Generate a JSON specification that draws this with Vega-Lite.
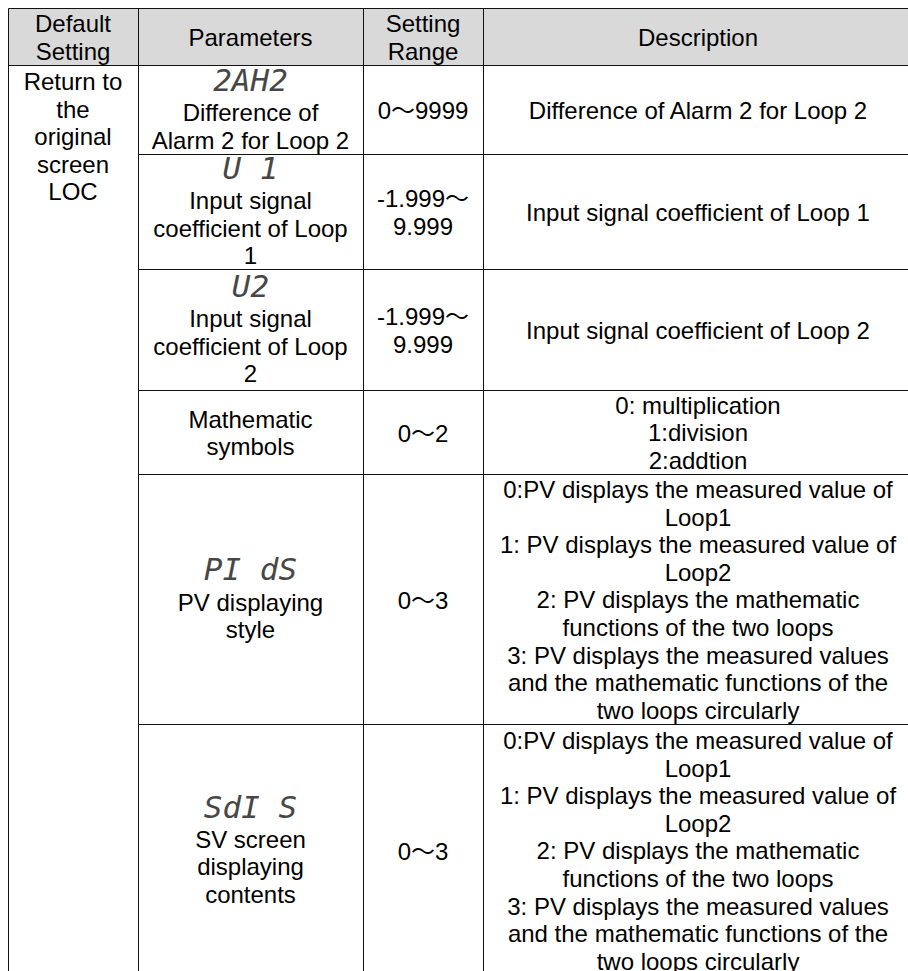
{
  "$schema": "https://vega.github.io/schema/vega-lite/v6.json",
  "width": 908,
  "height": 971,
  "padding": 0,
  "autosize": "none",
  "background": "white",
  "config": {"view": {"stroke": null}},
  "datasets": {
    "header": [{"c0": 0, "c1": 4, "r0": 0, "r1": 1}],
    "grid": [
      {"c0": 0, "c1": 0, "r0": 0, "r1": 7},
      {"c0": 1, "c1": 1, "r0": 0, "r1": 7},
      {"c0": 2, "c1": 2, "r0": 0, "r1": 7},
      {"c0": 3, "c1": 3, "r0": 0, "r1": 7},
      {"c0": 4, "c1": 4, "r0": 0, "r1": 7},
      {"c0": 0, "c1": 4, "r0": 0, "r1": 0},
      {"c0": 0, "c1": 4, "r0": 1, "r1": 1},
      {"c0": 1, "c1": 4, "r0": 2, "r1": 2},
      {"c0": 1, "c1": 4, "r0": 3, "r1": 3},
      {"c0": 1, "c1": 4, "r0": 4, "r1": 4},
      {"c0": 1, "c1": 4, "r0": 5, "r1": 5},
      {"c0": 1, "c1": 4, "r0": 6, "r1": 6},
      {"c0": 0, "c1": 4, "r0": 7, "r1": 7}
    ],
    "cells": [
      {"row": 0, "col": 0, "text": "Default\nSetting"},
      {"row": 0, "col": 1, "text": "Parameters"},
      {"row": 0, "col": 2, "text": "Setting\nRange"},
      {"row": 0, "col": 3, "text": "Description"},
      {"row": 1, "col": 2, "text": "0～9999"},
      {"row": 1, "col": 3, "text": "Difference of Alarm 2 for Loop 2"},
      {"row": 2, "col": 2, "text": "-1.999～\n9.999"},
      {"row": 2, "col": 3, "text": "Input signal coefficient of Loop 1"},
      {"row": 3, "col": 2, "text": "-1.999～\n9.999"},
      {"row": 3, "col": 3, "text": "Input signal coefficient of Loop 2"},
      {"row": 4, "col": 1, "text": "Mathematic\nsymbols"},
      {"row": 4, "col": 2, "text": "0～2"},
      {"row": 4, "col": 3, "text": "0: multiplication\n1:division\n2:addtion"},
      {"row": 5, "col": 2, "text": "0～3"},
      {"row": 5, "col": 3, "text": "0:PV displays the measured value of\nLoop1\n1: PV displays the measured value of\nLoop2\n2: PV displays the mathematic\nfunctions of the two loops\n3: PV displays the measured values\nand the mathematic functions of the\ntwo loops circularly"},
      {"row": 6, "col": 2, "text": "0～3"},
      {"row": 6, "col": 3, "text": "0:PV displays the measured value of\nLoop1\n1: PV displays the measured value of\nLoop2\n2: PV displays the mathematic\nfunctions of the two loops\n3: PV displays the measured values\nand the mathematic functions of the\ntwo loops circularly"}
    ],
    "params": [
      {"row": 1, "col": 1, "code": "2AH2", "text": "Difference of\nAlarm 2 for Loop 2"},
      {"row": 2, "col": 1, "code": "U 1", "text": "Input signal\ncoefficient of Loop\n1"},
      {"row": 3, "col": 1, "code": "U2", "text": "Input signal\ncoefficient of Loop\n2"},
      {"row": 5, "col": 1, "code": "PI dS", "text": "PV displaying\nstyle"},
      {"row": 6, "col": 1, "code": "SdI S", "text": "SV screen\ndisplaying\ncontents"}
    ],
    "merged": [
      {"row": 1, "col": 0, "text": "Return to\nthe\noriginal\nscreen\nLOC"}
    ]
  },
  "layer": [
    {
      "data": {"name": "header"},
      "mark": {"type": "rect", "color": "#d9d9d9"},
      "encoding": {
        "x": {"field": "c0", "type": "quantitative", "axis": null, "scale": {"domain": [0, 1, 2, 3, 4], "range": [8.5, 138.5, 363.5, 483.5, 913], "nice": false, "zero": false}},
        "x2": {"field": "c1"},
        "y": {"field": "r0", "type": "quantitative", "axis": null, "scale": {"domain": [0, 1, 2, 3, 4, 5, 6, 7], "range": [8.5, 65.5, 154.5, 269.5, 390.5, 474.5, 724.5, 976], "nice": false, "zero": false}},
        "y2": {"field": "r1"}
      }
    },
    {
      "data": {"name": "grid"},
      "mark": {"type": "rule", "color": "#111111", "strokeWidth": 1},
      "encoding": {
        "x": {"field": "c0", "type": "quantitative", "axis": null, "scale": {"domain": [0, 1, 2, 3, 4], "range": [8.5, 138.5, 363.5, 483.5, 913], "nice": false, "zero": false}},
        "x2": {"field": "c1"},
        "y": {"field": "r0", "type": "quantitative", "axis": null, "scale": {"domain": [0, 1, 2, 3, 4, 5, 6, 7], "range": [8.5, 65.5, 154.5, 269.5, 390.5, 474.5, 724.5, 976], "nice": false, "zero": false}},
        "y2": {"field": "r1"}
      }
    },
    {
      "encoding": {
        "x": {"field": "col", "type": "quantitative", "axis": null, "scale": {"domain": [0, 1, 2, 3], "range": [73, 250.5, 423, 698], "nice": false, "zero": false}},
        "y": {"field": "row", "type": "quantitative", "axis": null, "scale": {"domain": [0, 1, 2, 3, 4, 5, 6], "range": [36.5, 109.5, 211.5, 329.5, 432, 599, 850], "nice": false, "zero": false}}
      },
      "layer": [
        {
          "data": {"name": "cells"},
          "transform": [{"filter": "length(split(datum.text, '\\n')) == 1"}],
          "mark": {"type": "text", "font": "Liberation Sans, Noto Sans CJK SC", "fontSize": 24, "lineHeight": 27.6, "lineBreak": "\n", "align": "center", "baseline": "middle", "dy": 2.5, "color": "#000000"},
          "encoding": {"text": {"field": "text", "type": "nominal"}}
        },
        {
          "data": {"name": "cells"},
          "transform": [{"filter": "length(split(datum.text, '\\n')) == 2"}],
          "mark": {"type": "text", "font": "Liberation Sans, Noto Sans CJK SC", "fontSize": 24, "lineHeight": 27.6, "lineBreak": "\n", "align": "center", "baseline": "middle", "dy": -11.3, "color": "#000000"},
          "encoding": {"text": {"field": "text", "type": "nominal"}}
        },
        {
          "data": {"name": "cells"},
          "transform": [{"filter": "length(split(datum.text, '\\n')) == 3"}],
          "mark": {"type": "text", "font": "Liberation Sans, Noto Sans CJK SC", "fontSize": 24, "lineHeight": 27.6, "lineBreak": "\n", "align": "center", "baseline": "middle", "dy": -25.1, "color": "#000000"},
          "encoding": {"text": {"field": "text", "type": "nominal"}}
        },
        {
          "data": {"name": "cells"},
          "transform": [{"filter": "length(split(datum.text, '\\n')) == 9"}],
          "mark": {"type": "text", "font": "Liberation Sans, Noto Sans CJK SC", "fontSize": 24, "lineHeight": 27.6, "lineBreak": "\n", "align": "center", "baseline": "middle", "dy": -107.9, "color": "#000000"},
          "encoding": {"text": {"field": "text", "type": "nominal"}}
        },
        {
          "data": {"name": "params"},
          "transform": [{"filter": "length(split(datum.text, '\\n')) == 2"}],
          "mark": {"type": "text", "font": "Liberation Sans, Noto Sans CJK SC", "fontSize": 24, "lineHeight": 27.6, "lineBreak": "\n", "align": "center", "baseline": "middle", "dy": 4.5, "color": "#000000"},
          "encoding": {"text": {"field": "text", "type": "nominal"}}
        },
        {
          "data": {"name": "params"},
          "transform": [{"filter": "length(split(datum.text, '\\n')) == 3"}],
          "mark": {"type": "text", "font": "Liberation Sans, Noto Sans CJK SC", "fontSize": 24, "lineHeight": 27.6, "lineBreak": "\n", "align": "center", "baseline": "middle", "dy": -9.3, "color": "#000000"},
          "encoding": {"text": {"field": "text", "type": "nominal"}}
        },
        {
          "data": {"name": "params"},
          "transform": [{"filter": "length(split(datum.text, '\\n')) == 2"}],
          "mark": {"type": "text", "font": "DejaVu Sans Mono", "fontSize": 31, "align": "center", "baseline": "middle", "dy": -27.6, "color": "#474747", "fontStyle": "italic"},
          "encoding": {"text": {"field": "code", "type": "nominal"}}
        },
        {
          "data": {"name": "params"},
          "transform": [{"filter": "length(split(datum.text, '\\n')) == 3"}],
          "mark": {"type": "text", "font": "DejaVu Sans Mono", "fontSize": 31, "align": "center", "baseline": "middle", "dy": -41.4, "color": "#474747", "fontStyle": "italic"},
          "encoding": {"text": {"field": "code", "type": "nominal"}}
        }
      ]
    },
    {
      "data": {"name": "merged"},
      "mark": {"type": "text", "font": "Liberation Sans, Noto Sans CJK SC", "fontSize": 24, "lineHeight": 27.5, "lineBreak": "\n", "align": "center", "baseline": "top", "dy": 6, "color": "#000000"},
      "encoding": {
        "x": {"field": "col", "type": "quantitative", "axis": null, "scale": {"domain": [0, 1, 2, 3], "range": [73, 250.5, 423, 698], "nice": false, "zero": false}},
        "y": {"field": "row", "type": "quantitative", "axis": null, "scale": {"domain": [0, 1, 2, 3, 4, 5, 6, 7], "range": [8, 65, 154, 269, 390, 474, 724, 976], "nice": false, "zero": false}},
        "text": {"field": "text", "type": "nominal"}
      }
    }
  ],
  "resolve": {"scale": {"x": "independent", "y": "independent"}}
}
